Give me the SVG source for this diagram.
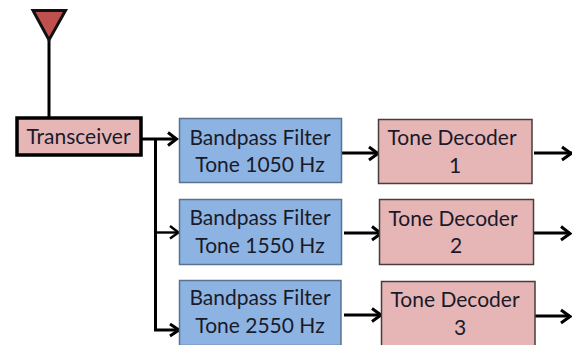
<svg xmlns="http://www.w3.org/2000/svg" width="572" height="345" viewBox="0 0 572 345">
<defs>
<style>
text{font-family:Lato,"Open Sans",sans-serif;font-size:21px;fill:#1a1a2a;text-anchor:middle}
.blue{fill:#8db3e2;stroke:#5a7190;stroke-width:1.5}
.pink{fill:#e6b5b5;stroke:#4a3c3c;stroke-width:1.5}
.c{fill:none;stroke:#000;stroke-width:3}
.t{fill:none;stroke:#000;stroke-width:2.400}
.h{fill:none;stroke:#000;stroke-width:3}
</style>
</defs>
<rect width="572" height="345" fill="#fff"/>
<g id="connectors">
<path class="c" d="M49 40V117"/>
<path class="c" d="M142 139H176"/><path class="h" d="M168 132.500L176.500 139L168 145.500"/>
<path class="c" d="M155.500 139V330H178"/>
<path class="t" d="M155.500 232.500H178"/><path class="t" d="M170 226L178.500 232.500L170 238.500"/>
<path class="h" d="M170 324L179 330L170 336"/>
<path class="c" d="M341 153H377"/><path class="h" d="M369 147L378 153.500L369 160"/>
<path class="c" d="M344 233H381"/><path class="h" d="M372 226.500L381 233.500L372 240"/>
<path class="c" d="M344 315H381"/><path class="h" d="M372 308.500L381 315L372 321.500"/>
<path class="c" d="M534 153H572"/><path class="h" d="M562 147L571 153.500L562 160"/>
<path class="c" d="M533 233H570"/><path class="h" d="M561 226.500L570 233.500L561 240"/>
<path class="c" d="M533 316H570"/><path class="h" d="M561 310L570 316.500L561 323"/>
</g>
<g id="antenna"><path d="M33 10.500H65.500L49 40Z" fill="#c0504d" stroke="#111" stroke-width="3"/></g>
<g id="transceiver"><rect x="17" y="118" width="124" height="37" fill="#e6b5b5" stroke="#000" stroke-width="3.500"/><text x="78.500" y="144">Transceiver</text></g>
<g id="filter1"><rect class="blue" x="179.500" y="118.500" width="162" height="64"/><text x="260" y="145">Bandpass Filter</text><text x="260" y="172">Tone 1050 Hz</text></g>
<g id="filter2"><rect class="blue" x="179.500" y="199.500" width="162" height="65"/><text x="260" y="225">Bandpass Filter</text><text x="260" y="253">Tone 1550 Hz</text></g>
<g id="filter3"><rect class="blue" x="179.500" y="280.500" width="161.500" height="65"/><text x="260" y="305">Bandpass Filter</text><text x="260" y="333">Tone 2550 Hz</text></g>
<g id="decoder1"><rect class="pink" x="378.500" y="119.500" width="153.500" height="64"/><text x="452" y="145">Tone Decoder</text><text x="455" y="173">1</text></g>
<g id="decoder2"><rect class="pink" x="379.500" y="199.500" width="154" height="65"/><text x="453" y="226">Tone Decoder</text><text x="456" y="253">2</text></g>
<g id="decoder3"><rect class="pink" x="381.500" y="281.500" width="153.500" height="65"/><text x="455" y="307">Tone Decoder</text><text x="460" y="335">3</text></g>
</svg>
